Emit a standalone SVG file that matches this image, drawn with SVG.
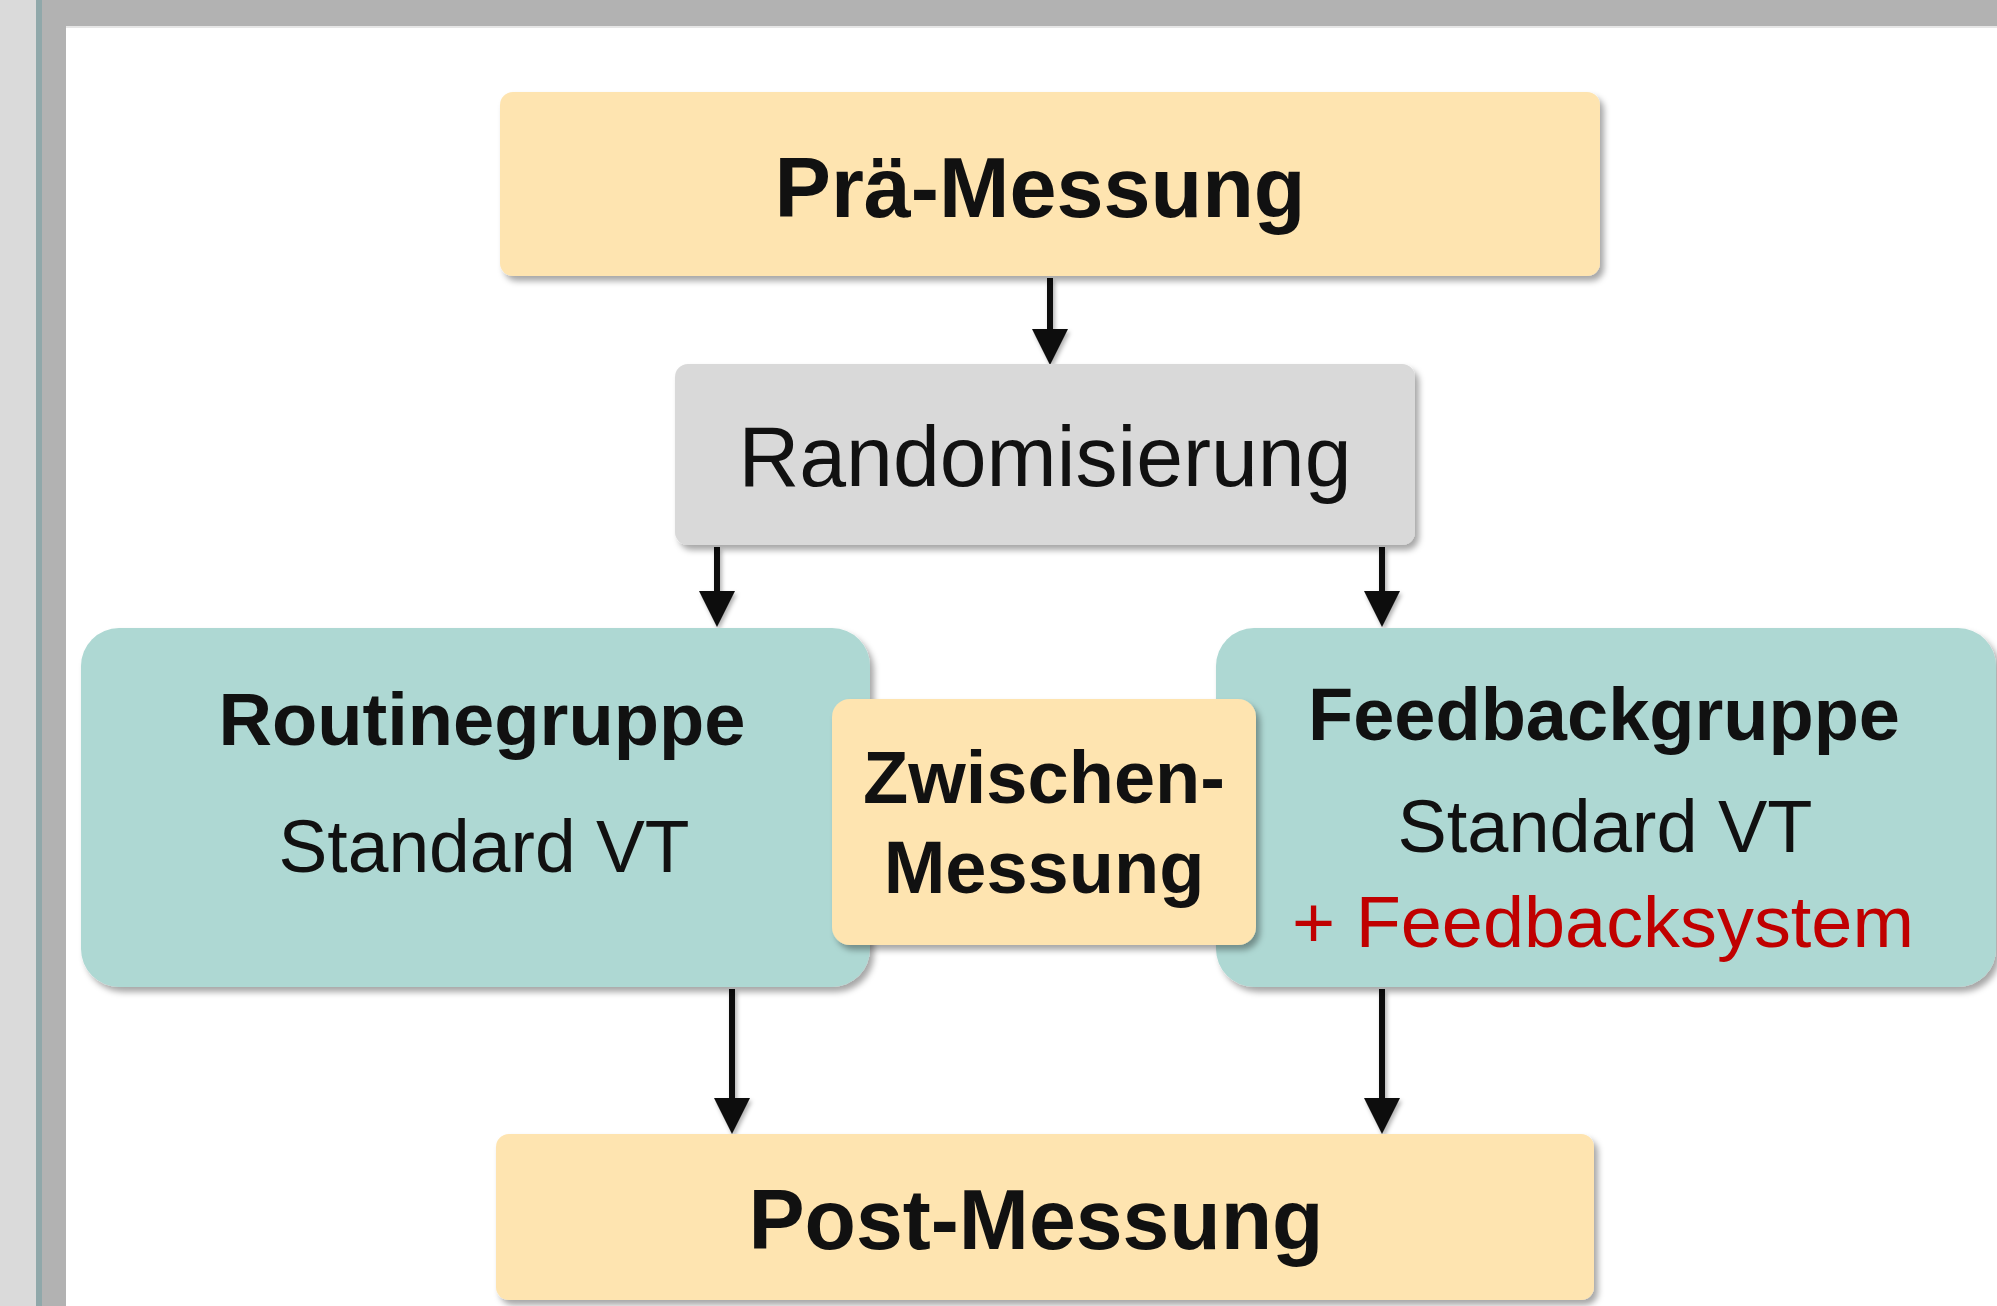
<svg xmlns="http://www.w3.org/2000/svg" width="1997" height="1306" viewBox="0 0 1997 1306">
<defs>
<filter id="sh" x="-10%" y="-10%" width="125%" height="130%">
<feDropShadow dx="4" dy="5" stdDeviation="3" flood-color="#000" flood-opacity="0.35"/>
</filter>
<filter id="ash" x="-50%" y="-10%" width="200%" height="130%">
<feDropShadow dx="2" dy="3" stdDeviation="2" flood-color="#000" flood-opacity="0.3"/>
</filter>
<marker id="ah" markerWidth="6" markerHeight="6" refX="1" refY="3" orient="auto" markerUnits="strokeWidth">
<path d="M0,0 L6,3 L0,6 Z" fill="#111"/>
</marker>
</defs>
<style>
.y{fill:#fee4b0}
.g{fill:#d9d9d9}
.t{fill:#aed8d3}
.b{font-family:"Liberation Sans",Arial,sans-serif;font-weight:bold;fill:#111;text-anchor:middle}
.r{font-family:"Liberation Sans",Arial,sans-serif;fill:#111;text-anchor:middle}
.red{fill:#c00000}
.c{stroke:#111;stroke-width:6;fill:none;marker-end:url(#ah)}
</style>
<rect x="0" y="0" width="1997" height="1306" fill="#ffffff"/>
<rect x="0" y="0" width="36" height="1306" fill="#dadada"/>
<rect x="36" y="0" width="6" height="1306" fill="#90a8aa"/>
<rect x="42" y="0" width="24" height="1306" fill="#b2b2b2"/>
<rect x="42" y="0" width="1955" height="26" fill="#b2b2b2"/>
<rect x="66" y="26" width="1931" height="2" fill="#e6e6e6"/>

<g id="connectors" filter="url(#ash)">
<line class="c" x1="1050" y1="278" x2="1050" y2="335"/>
<line class="c" x1="717" y1="547" x2="717" y2="597"/>
<line class="c" x1="1382" y1="547" x2="1382" y2="597"/>
<line class="c" x1="732" y1="989" x2="732" y2="1104"/>
<line class="c" x1="1382" y1="989" x2="1382" y2="1104"/>
</g>

<g id="pre">
<rect class="y" x="500" y="92" width="1100" height="184" rx="13" filter="url(#sh)"/>
<text class="b" x="1040" y="217" font-size="85" textLength="531" lengthAdjust="spacingAndGlyphs">Prä-Messung</text>
</g>

<g id="random">
<rect class="g" x="675" y="364" width="740" height="181" rx="13" filter="url(#sh)"/>
<text class="r" x="1045" y="486" font-size="85" textLength="613" lengthAdjust="spacingAndGlyphs">Randomisierung</text>
</g>

<g id="routine">
<rect class="t" x="81" y="628" width="789" height="359" rx="38" filter="url(#sh)"/>
<text class="b" x="482" y="745" font-size="75" textLength="527" lengthAdjust="spacingAndGlyphs">Routinegruppe</text>
<text class="r" x="484" y="872" font-size="74" textLength="411" lengthAdjust="spacingAndGlyphs">Standard VT</text>
</g>

<g id="feedback">
<rect class="t" x="1216" y="628" width="780" height="359" rx="38" filter="url(#sh)"/>
<text class="b" x="1604" y="740" font-size="74" textLength="592" lengthAdjust="spacingAndGlyphs">Feedbackgruppe</text>
<text class="r" x="1605" y="852" font-size="74" textLength="415" lengthAdjust="spacingAndGlyphs">Standard VT</text>
<text class="r red" x="1603" y="947" font-size="73" textLength="622" lengthAdjust="spacingAndGlyphs">+ Feedbacksystem</text>
</g>

<g id="zwischen">
<rect class="y" x="832" y="699" width="424" height="246" rx="18" filter="url(#sh)"/>
<text class="b" x="1044" y="803" font-size="74" textLength="362" lengthAdjust="spacingAndGlyphs">Zwischen-</text>
<text class="b" x="1044" y="893" font-size="74">Messung</text>
</g>

<g id="post">
<rect class="y" x="496" y="1134" width="1098" height="166" rx="13" filter="url(#sh)"/>
<text class="b" x="1036" y="1249" font-size="85" textLength="575" lengthAdjust="spacingAndGlyphs">Post-Messung</text>
</g>
</svg>
